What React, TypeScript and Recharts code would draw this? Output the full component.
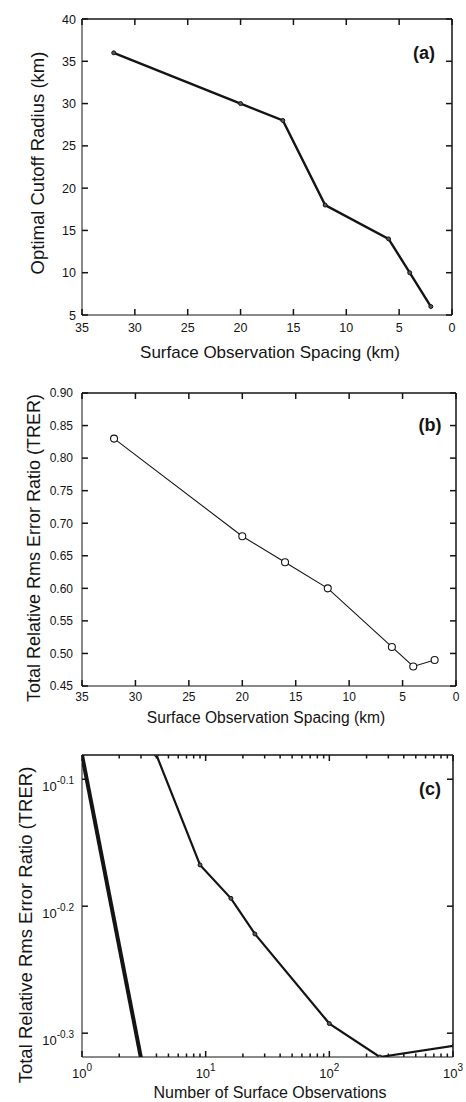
import React from "react";
import { LineChart, Line, XAxis, YAxis, ReferenceLine } from "recharts";

// panel (a) / (b): spacing vs cutoff radius and TRER
const spacingKm = [32, 20, 16, 12, 6, 4, 2];
const cutoffRadiusKm = [36, 30, 28, 18, 14, 10, 6];
const trerValues = [0.83, 0.68, 0.64, 0.6, 0.51, 0.48, 0.49];

// panel (c): number of observations vs TRER (log-log)
const obsCount = [4, 9, 16, 25, 100, 256, 1024];
const refObsCount = [1, 3];
const refTrer = [0.83, 0.479];

const spacingTicks = [0, 5, 10, 15, 20, 25, 30, 35];
const radiusTicks = [5, 10, 15, 20, 25, 30, 35, 40];
const trerTicks = [0.45, 0.5, 0.55, 0.6, 0.65, 0.7, 0.75, 0.8, 0.85, 0.9];
const obsTicks = [
  1, 2, 3, 4, 5, 6, 7, 8, 9, 10, 20, 30, 40, 50, 60, 70, 80, 90, 100, 200, 300,
  400, 500, 600, 700, 800, 900, 1000,
];
const trerLogExponents = [-0.1, -0.2, -0.3];

const INK = "#141414";
const FONT = "'Liberation Sans', Arial, Helvetica, sans-serif";

const dataA = spacingKm.map((s, i) => ({ spacing: s, radius: cutoffRadiusKm[i] }));
const dataB = spacingKm.map((s, i) => ({ spacing: s, trer: trerValues[i] }));
const dataC = obsCount.map((n, i) => ({ n, trer: trerValues[i] }));
const dataRef = refObsCount.map((n, i) => ({ n, trer: refTrer[i] }));
const logTicksY = trerLogExponents.map((e) => Math.pow(10, e));

// bottom ticks point inward and are mirrored on the top edge (span = plot height)
function XTick(props: any) {
  const { x, y, payload, span, fmt, fs, off } = props;
  return (
    <g>
      <line x1={x} y1={y} x2={x} y2={y - 6} stroke={INK} strokeWidth={1.5} />
      <line x1={x} y1={y - span} x2={x} y2={y - span + 6} stroke={INK} strokeWidth={1.5} />
      <text x={x} y={y + off} textAnchor="middle" fontSize={fs} fill={INK}>
        {fmt ? fmt(payload.value) : payload.value}
      </text>
    </g>
  );
}

// left ticks point inward and are mirrored on the right edge (span = plot width)
function YTick(props: any) {
  const { x, y, payload, span, fmt, gap, fs } = props;
  return (
    <g>
      <line x1={x} y1={y} x2={x + 6} y2={y} stroke={INK} strokeWidth={1.5} />
      <line x1={x + span} y1={y} x2={x + span - 6} y2={y} stroke={INK} strokeWidth={1.5} />
      <text x={x - gap} y={y + fs * 0.36} textAnchor="end" fontSize={fs} fill={INK}>
        {fmt ? fmt(payload.value) : payload.value}
      </text>
    </g>
  );
}

function LogXTick(props: any) {
  const { x, y, payload, span } = props;
  const lg = Math.log10(payload.value);
  const exp = Math.round(lg);
  const major = Math.abs(lg - exp) < 1e-6;
  const len = major ? 6 : 3.5;
  return (
    <g>
      <line x1={x} y1={y} x2={x} y2={y - len} stroke={INK} strokeWidth={1.5} />
      <line x1={x} y1={y - span} x2={x} y2={y - span + len} stroke={INK} strokeWidth={1.5} />
      {major && (
        <text x={x} y={y + 21} textAnchor="middle" fontSize={13} fill={INK}>
          10
          <tspan dy={-7} fontSize={10}>
            {exp}
          </tspan>
        </text>
      )}
    </g>
  );
}

function LogYTick(props: any) {
  const { x, y, payload, span } = props;
  const exp = Math.log10(payload.value).toFixed(1);
  return (
    <g>
      <line x1={x} y1={y} x2={x + 6} y2={y} stroke={INK} strokeWidth={1.5} />
      <line x1={x + span} y1={y} x2={x + span - 6} y2={y} stroke={INK} strokeWidth={1.5} />
      <text x={x - 8} y={y + 12} textAnchor="end" fontSize={13} fill={INK}>
        10
        <tspan dy={-7} fontSize={10}>
          {exp}
        </tspan>
      </text>
    </g>
  );
}

const Titles = () => (
  <svg width={466} height={1102} style={{ position: "absolute", left: 0, top: 0, pointerEvents: "none" }}>
    <g fill={INK}>
      <text x={424} y={59} textAnchor="middle" fontSize={18} fontWeight="bold">(a)</text>
      <text x={270} y={358} textAnchor="middle" fontSize={17}>Surface Observation Spacing (km)</text>
      <text transform="translate(44,163) rotate(-90)" textAnchor="middle" fontSize={18.5}>Optimal Cutoff Radius (km)</text>
      <text x={430} y={431} textAnchor="middle" fontSize={18} fontWeight="bold">(b)</text>
      <text x={266} y={723} textAnchor="middle" fontSize={15.6}>Surface Observation Spacing (km)</text>
      <text transform="translate(40,548) rotate(-90)" textAnchor="middle" fontSize={18}>Total Relative Rms Error Ratio (TRER)</text>
      <text x={430} y={795} textAnchor="middle" fontSize={18} fontWeight="bold">(c)</text>
      <text x={270} y={1098} textAnchor="middle" fontSize={16}>Number of Surface Observations</text>
      <text transform="translate(32,925) rotate(-90)" textAnchor="middle" fontSize={18.5}>Total Relative Rms Error Ratio (TRER)</text>
    </g>
  </svg>
);

export default function App() {
  return (
    <div style={{ position: "absolute", left: 0, top: 0, width: 466, height: 1102, fontFamily: FONT }}>
      {/* (a) plot box 370 x 296 */}
      <div style={{ position: "absolute", left: 0, top: 0 }}>
        <LineChart width={466} height={370} data={dataA} margin={{ top: 19, right: 14, bottom: 0, left: 0 }}>
          <XAxis type="number" dataKey="spacing" domain={[0, 35]} reversed ticks={spacingTicks} interval={0}
            height={55} tickLine={false} tickSize={0} tickMargin={0} stroke={INK} allowDataOverflow
            tick={<XTick span={296} off={17} fs={12.5} />} />
          <YAxis type="number" domain={[5, 40]} ticks={radiusTicks} interval={0} width={82} tickLine={false}
            tickSize={0} tickMargin={0} stroke={INK} allowDataOverflow tick={<YTick span={370} gap={6} fs={12.5} />} />
          <ReferenceLine y={40} stroke={INK} strokeWidth={1.5} />
          <ReferenceLine x={0} stroke={INK} strokeWidth={1.5} />
          <Line dataKey="radius" type="linear" stroke={INK} strokeWidth={2.4}
            dot={{ r: 2, fill: "#555", stroke: INK, strokeWidth: 1 }} isAnimationActive={false} />
        </LineChart>
      </div>

      {/* (b) plot box 374 x 293 */}
      <div style={{ position: "absolute", left: 0, top: 370 }}>
        <LineChart width={466} height={360} data={dataB} margin={{ top: 23, right: 10, bottom: 0, left: 0 }}>
          <XAxis type="number" dataKey="spacing" domain={[0, 35]} reversed ticks={spacingTicks} interval={0}
            height={44} tickLine={false} tickSize={0} tickMargin={0} stroke={INK} allowDataOverflow
            tick={<XTick span={293} off={14.5} fs={12} />} />
          <YAxis type="number" domain={[0.45, 0.9]} ticks={trerTicks} interval={0} width={82} tickLine={false}
            tickSize={0} tickMargin={0} stroke={INK} allowDataOverflow
            tick={<YTick span={374} gap={9} fs={12} fmt={(v: number) => v.toFixed(2)} />} />
          <ReferenceLine y={0.9} stroke={INK} strokeWidth={1.5} />
          <ReferenceLine x={0} stroke={INK} strokeWidth={1.5} />
          <Line dataKey="trer" type="linear" stroke={INK} strokeWidth={1.1}
            dot={{ r: 3.5, fill: "#fff", stroke: INK, strokeWidth: 1.1 }} isAnimationActive={false} />
        </LineChart>
      </div>

      {/* (c) plot box 371 x 302 */}
      <div style={{ position: "absolute", left: 0, top: 730 }}>
        <LineChart width={466} height={372} margin={{ top: 25, right: 13, bottom: 0, left: 0 }}>
          <XAxis type="number" dataKey="n" scale="log" domain={[1, 1000]} ticks={obsTicks} interval={0}
            height={45} tickLine={false} tickSize={0} tickMargin={0} stroke={INK} allowDataOverflow
            tick={<LogXTick span={302} />} />
          <YAxis type="number" dataKey="trer" scale="log" domain={[0.48, 0.83]} ticks={logTicksY} interval={0}
            width={82} tickLine={false} tickSize={0} tickMargin={0} stroke={INK} allowDataOverflow
            tick={<LogYTick span={371} />} />
          <ReferenceLine y={0.83} stroke={INK} strokeWidth={1.5} />
          <ReferenceLine x={1000} stroke={INK} strokeWidth={1.5} />
          <Line data={dataRef} dataKey="trer" type="linear" stroke={INK} strokeWidth={4} dot={false}
            isAnimationActive={false} />
          <Line data={dataC} dataKey="trer" type="linear" stroke={INK} strokeWidth={2.2}
            dot={{ r: 2, fill: "#555", stroke: INK, strokeWidth: 1 }} isAnimationActive={false} />
        </LineChart>
      </div>

      <Titles />
    </div>
  );
}
